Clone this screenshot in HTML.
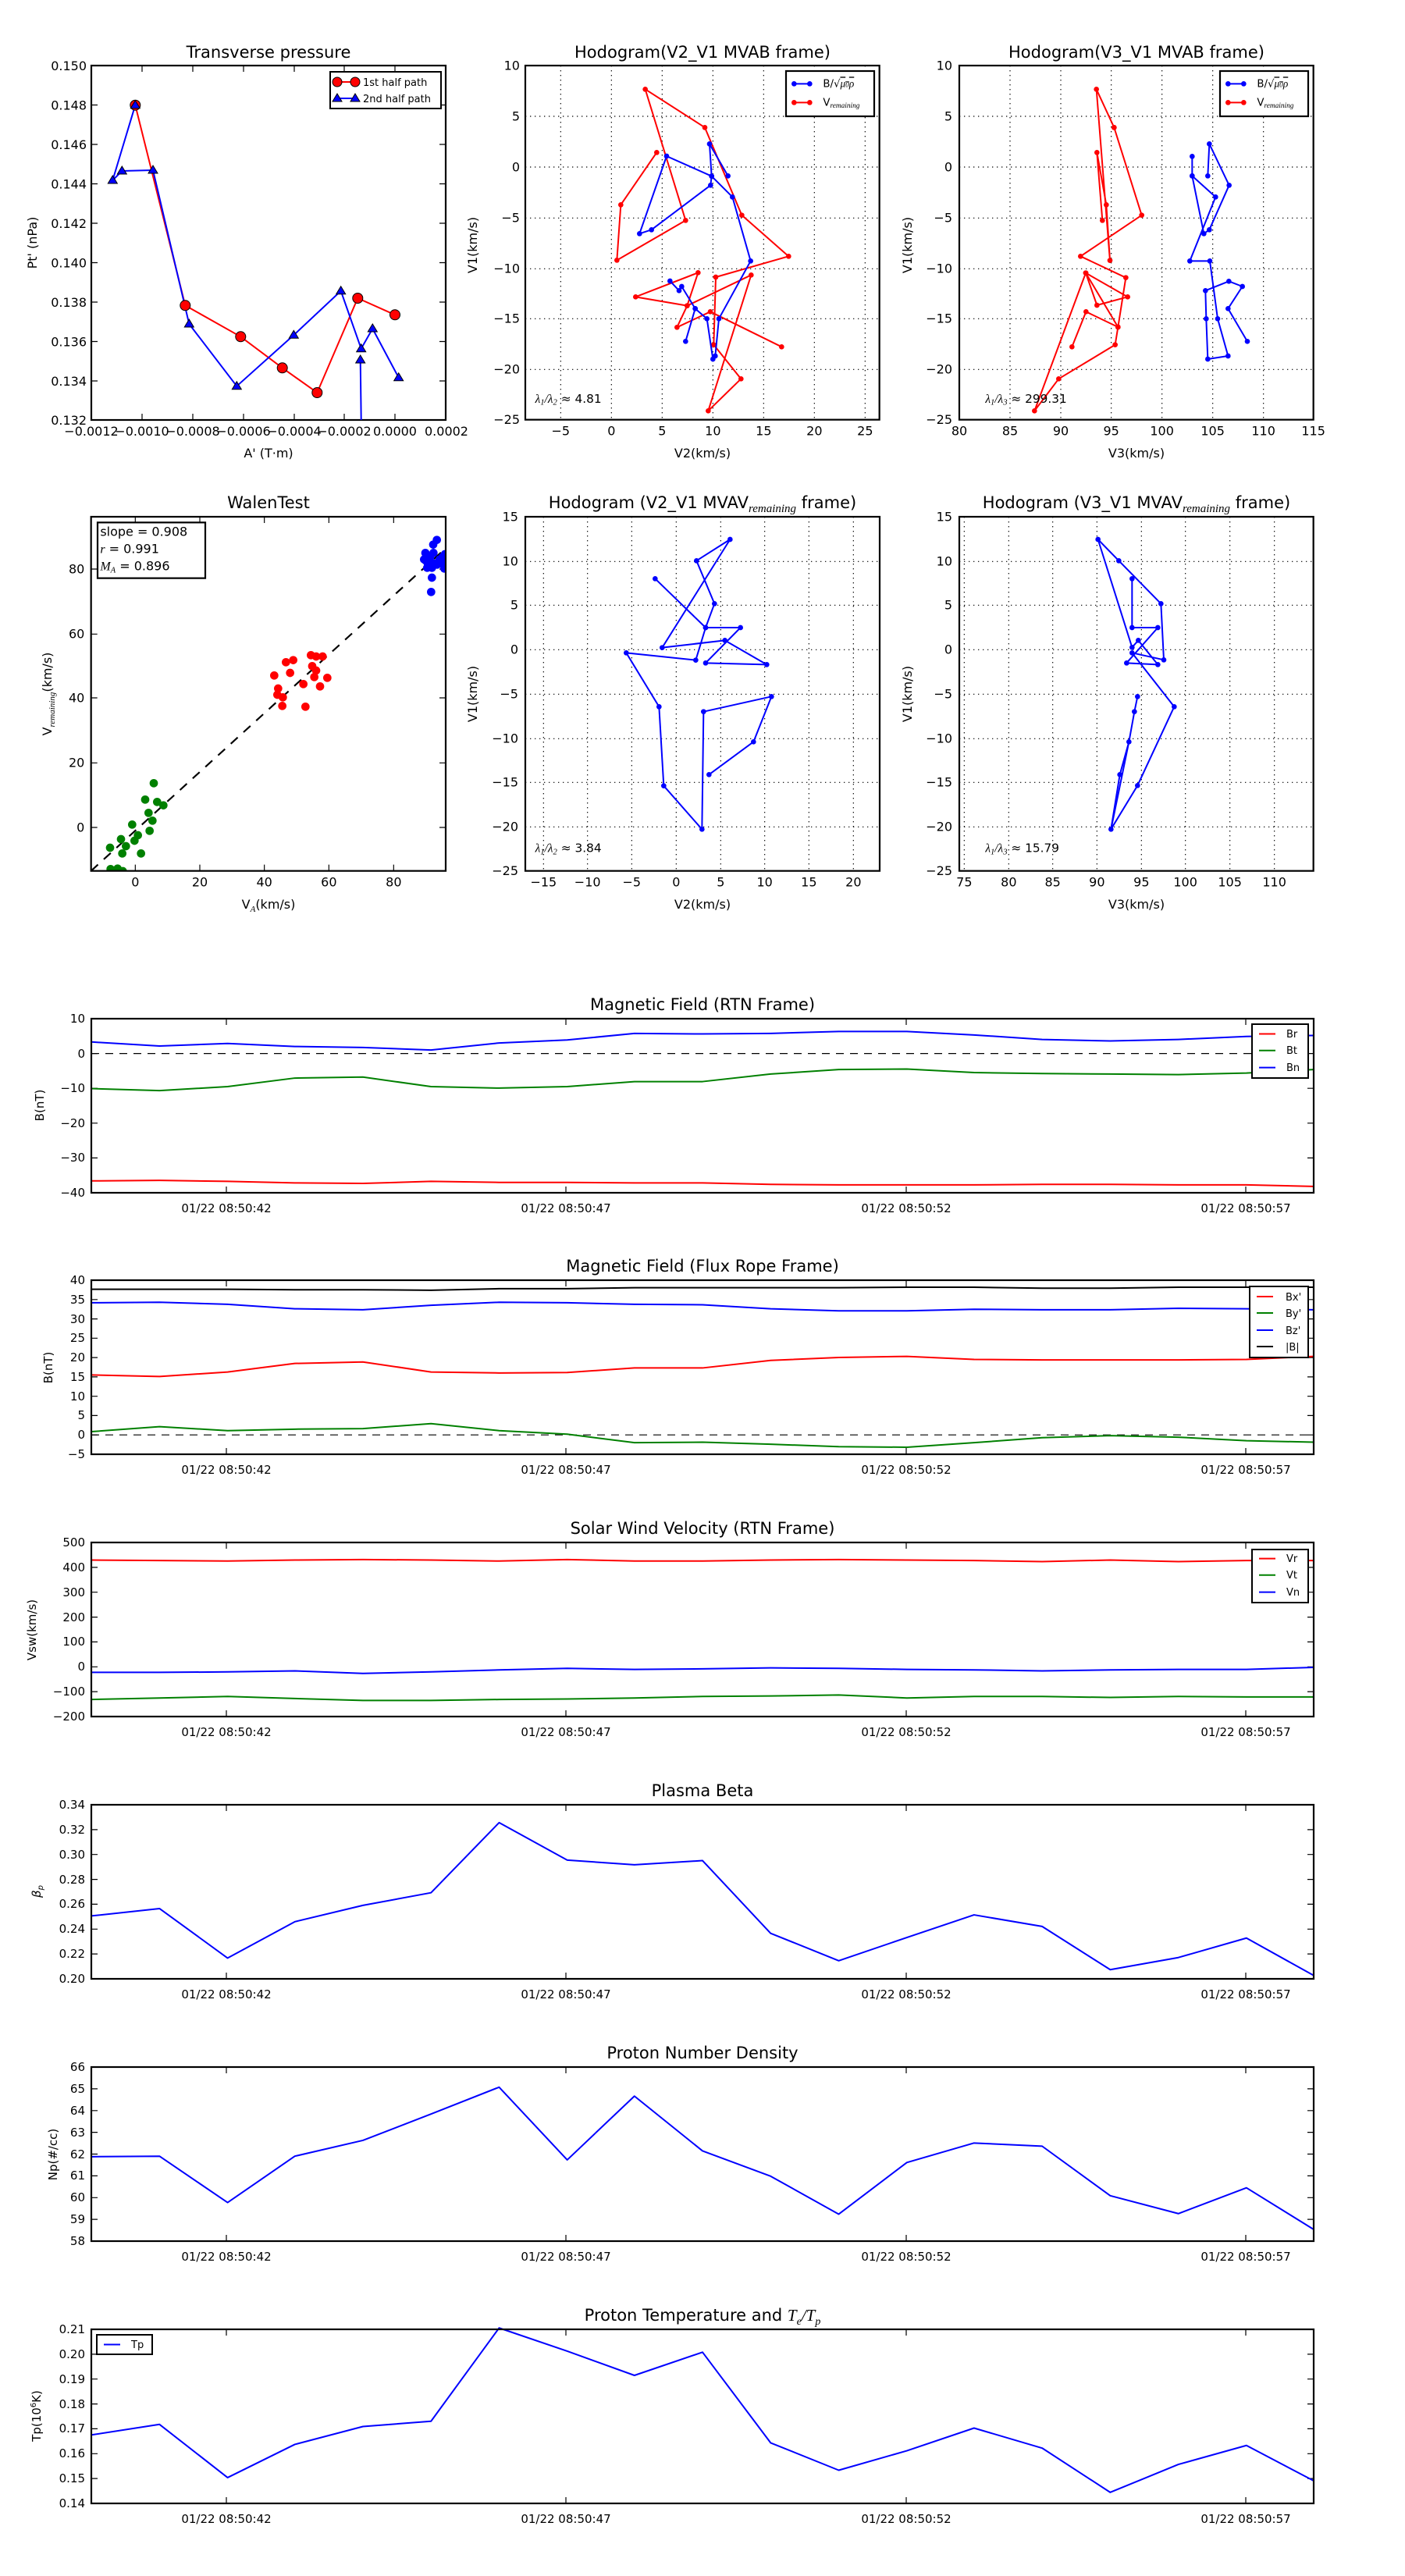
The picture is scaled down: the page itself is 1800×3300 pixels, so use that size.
<!DOCTYPE html>
<html><head><meta charset="utf-8"><style>
html,body{margin:0;padding:0;background:#fff}
svg{display:block}
text{font-family:"DejaVu Sans","Liberation Sans",sans-serif;fill:#000}
.ln{fill:none;stroke-width:2;vector-effect:non-scaling-stroke;stroke-linejoin:round}
.ax{fill:none;stroke:#000;stroke-width:2.2}
.tk{stroke:#000;stroke-width:1.2}
.gr{stroke:#000;stroke-width:1.2;stroke-dasharray:1.5,5}
</style></head><body>
<svg width="1800" height="3300" viewBox="0 0 1800 3300" xmlns="http://www.w3.org/2000/svg">
<defs>
<marker id="dot" markerUnits="userSpaceOnUse" markerWidth="40" markerHeight="40" refX="20" refY="20" overflow="visible"><circle cx="20" cy="20" r="10"/></marker>
<marker id="dotb" markerUnits="userSpaceOnUse" markerWidth="40" markerHeight="40" refX="20" refY="20" overflow="visible"><circle cx="20" cy="20" r="10" fill="#00f"/></marker>
<marker id="dotr" markerUnits="userSpaceOnUse" markerWidth="40" markerHeight="40" refX="20" refY="20" overflow="visible"><circle cx="20" cy="20" r="10" fill="#f00"/></marker>
<clipPath id="cw"><rect x="80" y="66" width="1363" height="1361"/></clipPath>
</defs>

<!-- ============ Plot A: Transverse pressure ============ -->
<text x="344" y="74" font-size="21" text-anchor="middle">Transverse pressure</text>
<rect class="ax" x="117" y="84" width="454" height="454"/>
<g class="tk">
<path d="M182,84v8M247,84v8M312,84v8M377,84v8M441,84v8M506,84v8M182,538v-8M247,538v-8M312,538v-8M377,538v-8M441,538v-8M506,538v-8"/>
<path d="M117,134.5h8M117,185h8M117,235.5h8M117,286h8M117,336.5h8M117,387h8M117,437.5h8M117,488h8M571,134.5h-8M571,185h-8M571,235.5h-8M571,286h-8M571,336.5h-8M571,387h-8M571,437.5h-8M571,488h-8"/>
</g>
<g font-size="16" text-anchor="end">
<text x="111" y="90">0.150</text><text x="111" y="140.5">0.148</text><text x="111" y="191">0.146</text><text x="111" y="241.5">0.144</text><text x="111" y="292">0.142</text><text x="111" y="342.5">0.140</text><text x="111" y="393">0.138</text><text x="111" y="443.5">0.136</text><text x="111" y="494">0.134</text><text x="111" y="544">0.132</text>
</g>
<g font-size="16" text-anchor="middle">
<text x="117" y="558">−0.0012</text><text x="182" y="558">−0.0010</text><text x="247" y="558">−0.0008</text><text x="312" y="558">−0.0006</text><text x="377" y="558">−0.0004</text><text x="441" y="558">−0.0002</text><text x="506" y="558">0.0000</text><text x="572" y="558">0.0002</text>
</g>
<text x="344" y="586" font-size="16" text-anchor="middle">A' (T·m)</text>
<text transform="translate(47,311) rotate(-90)" font-size="16" text-anchor="middle">Pt' (nPa)</text>
<polyline fill="none" stroke="#f00" stroke-width="2" points="173.3,134.7 237.3,391.3 308.3,431.3 361.7,471.3 406.3,503 458.3,382 506,403.3"/>
<polyline fill="none" stroke="#00f" stroke-width="2" points="173.3,134.7 144.3,231 156.3,219 196,218 242.3,415 303.3,494.7 376.3,429.3 436.7,372.7 462.7,446.7 477.3,421 510.7,483.7"/>
<polyline fill="none" stroke="#00f" stroke-width="2" points="461.7,461 462.7,538"/>
<g fill="#f00" stroke="#000" stroke-width="1">
<circle cx="173.3" cy="134.7" r="6.5"/><circle cx="237.3" cy="391.3" r="6.5"/><circle cx="308.3" cy="431.3" r="6.5"/><circle cx="361.7" cy="471.3" r="6.5"/><circle cx="406.3" cy="503" r="6.5"/><circle cx="458.3" cy="382" r="6.5"/><circle cx="506" cy="403.3" r="6.5"/>
</g>
<g fill="#00f" stroke="#000" stroke-width="1">
<path d="M173.3,128.7l6,10h-12z"/><path d="M144.3,225l6,10h-12z"/><path d="M156.3,213l6,10h-12z"/><path d="M196,212l6,10h-12z"/><path d="M242.3,409l6,10h-12z"/><path d="M303.3,488.7l6,10h-12z"/><path d="M376.3,423.3l6,10h-12z"/><path d="M436.7,366.7l6,10h-12z"/><path d="M462.7,440.7l6,10h-12z"/><path d="M461.7,455l6,10h-12z"/><path d="M477.3,415l6,10h-12z"/><path d="M510.7,477.7l6,10h-12z"/>
</g>
<rect x="423" y="92" width="142" height="47" fill="#fff" stroke="#000" stroke-width="2"/>
<line x1="432" y1="105" x2="455" y2="105" stroke="#f00" stroke-width="2"/>
<circle cx="432" cy="105" r="6" fill="#f00" stroke="#000"/><circle cx="455" cy="105" r="6" fill="#f00" stroke="#000"/>
<line x1="432" y1="126" x2="455" y2="126" stroke="#00f" stroke-width="2"/>
<path d="M432,120l6,10h-12zM455,120l6,10h-12z" fill="#00f" stroke="#000"/>
<text x="465" y="110" font-size="13">1st half path</text>
<text x="465" y="131" font-size="13">2nd half path</text>

<!-- ============ Plot B ============ -->
<text x="900" y="74" font-size="21" text-anchor="middle">Hodogram(V2_V1 MVAB frame)</text>
<text transform="translate(611,314) rotate(-90)" font-size="16" text-anchor="middle">V1(km/s)</text>
<text x="900" y="586" font-size="16" text-anchor="middle">V2(km/s)</text>
<g transform="translate(640,60) scale(0.33333)">
<g class="gr" style="stroke-width:3.5;stroke-dasharray:4,14">
<path d="M235,72V1433M430,72V1433M625,72V1433M820,72V1433M1015,72V1433M1210,72V1433M1405,72V1433M99,267H1460M99,462H1460M99,658H1460M99,853H1460M99,1045H1460M99,1240H1460"/>
</g>
<g font-size="48" text-anchor="end">
<text x="78" y="88">10</text><text x="78" y="283">5</text><text x="78" y="478">0</text><text x="78" y="674">−5</text><text x="78" y="869">−10</text><text x="78" y="1061">−15</text><text x="78" y="1256">−20</text><text x="78" y="1449">−25</text>
</g>
<g font-size="48" text-anchor="middle">
<text x="235" y="1492">−5</text><text x="430" y="1492">0</text><text x="625" y="1492">5</text><text x="820" y="1492">10</text><text x="1015" y="1492">15</text><text x="1210" y="1492">20</text><text x="1405" y="1492">25</text>
</g>
<polyline class="ln" stroke="#f00" marker-start="url(#dotr)" marker-mid="url(#dotr)" marker-end="url(#dotr)" points="604,406 466,607 451,820 715,667 560,163 789,310 931,647 1111,805 831,885 823,1145 928,1276 802,1399 967,877 721,995 763,868 523,961 721,995 682,1078 810,1018 1084,1153"/>
<polyline class="ln" stroke="#00f" marker-start="url(#dotb)" marker-mid="url(#dotb)" marker-end="url(#dotb)" points="878,496 807,373 815,497 811,532 584,703 538,718 642,420 815,497 895,577 965,823 843,1045 829,1188 820,1200 797,1045 752,1006 715,1132"/>
<polyline class="ln" stroke="#00f" marker-start="url(#dotb)" marker-mid="url(#dotb)" marker-end="url(#dotb)" points="752,1006 700,921 690,937 655,900"/>
<rect x="1101" y="93" width="339" height="174" fill="#fff" stroke="#000" stroke-width="6.6"/>
<line x1="1132" y1="142" x2="1192" y2="142" stroke="#00f" stroke-width="6"/><circle cx="1132" cy="142" r="10" fill="#00f"/><circle cx="1192" cy="142" r="10" fill="#00f"/>
<line x1="1132" y1="214" x2="1192" y2="214" stroke="#f00" stroke-width="6"/><circle cx="1132" cy="214" r="10" fill="#f00"/><circle cx="1192" cy="214" r="10" fill="#f00"/>
<text x="1243" y="154" font-size="40">B/√<tspan font-family="Liberation Serif" font-style="italic" text-decoration="overline">μ<tspan font-size="28">0</tspan>ρ</tspan></text>
<text x="1243" y="226" font-size="40">V<tspan font-family="Liberation Serif" font-style="italic" font-size="28" dy="8">remaining</tspan></text>
<text x="137" y="1368" font-size="46"><tspan font-family="Liberation Serif" font-style="italic">λ<tspan font-size="32" dy="8">1</tspan><tspan dy="-8">/λ</tspan><tspan font-size="32" dy="8">2</tspan></tspan><tspan dy="-8"> ≈ 4.81</tspan></text>
<rect x="99" y="72" width="1361" height="1361" fill="none" stroke="#000" stroke-width="6.6"/>
</g>

<!-- ============ Plot C ============ -->
<text x="1456" y="74" font-size="21" text-anchor="middle">Hodogram(V3_V1 MVAB frame)</text>
<text transform="translate(1168,314) rotate(-90)" font-size="16" text-anchor="middle">V1(km/s)</text>
<text x="1456" y="586" font-size="16" text-anchor="middle">V3(km/s)</text>
<g transform="translate(1200,60) scale(0.33333)">
<g class="gr" style="stroke-width:3.5;stroke-dasharray:4,14">
<path d="M282,72V1433M477,72V1433M671,72V1433M866,72V1433M1061,72V1433M1256,72V1433M87,267H1448M87,462H1448M87,658H1448M87,853H1448M87,1045H1448M87,1240H1448"/>
</g>
<g font-size="48" text-anchor="end">
<text x="60" y="88">10</text><text x="60" y="283">5</text><text x="60" y="478">0</text><text x="60" y="674">−5</text><text x="60" y="869">−10</text><text x="60" y="1061">−15</text><text x="60" y="1256">−20</text><text x="60" y="1449">−25</text>
</g>
<g font-size="48" text-anchor="middle">
<text x="87" y="1492">80</text><text x="282" y="1492">85</text><text x="477" y="1492">90</text><text x="671" y="1492">95</text><text x="866" y="1492">100</text><text x="1061" y="1492">105</text><text x="1256" y="1492">110</text><text x="1448" y="1492">115</text>
</g>
<polyline class="ln" stroke="#f00" marker-start="url(#dotr)" marker-mid="url(#dotr)" marker-end="url(#dotr)" points="682,310 614,163 666,821 652,607 616,406 637,667"/>
<polyline class="ln" stroke="#f00" marker-start="url(#dotr)" marker-mid="url(#dotr)" marker-end="url(#dotr)" points="682,310 788,647 553,805 727,887 697,1077 686,1145 469,1276 376,1399 573,869 734,961 616,993 573,869 697,1077 574,1018 520,1153"/>
<polyline class="ln" stroke="#00f" marker-start="url(#dotb)" marker-mid="url(#dotb)" marker-end="url(#dotb)" points="1042,496 1048,373 1124,532 1048,703 1027,718 982,496 982,421 982,496 1072,577 973,823 1050,823 1080,1045 1120,1188 1042,1200 1036,1045 1033,937 1123,901 1175,921 1120,1006 1194,1132"/>
<rect x="1089" y="93" width="339" height="174" fill="#fff" stroke="#000" stroke-width="6.6"/>
<line x1="1120" y1="142" x2="1180" y2="142" stroke="#00f" stroke-width="6"/><circle cx="1120" cy="142" r="10" fill="#00f"/><circle cx="1180" cy="142" r="10" fill="#00f"/>
<line x1="1120" y1="214" x2="1180" y2="214" stroke="#f00" stroke-width="6"/><circle cx="1120" cy="214" r="10" fill="#f00"/><circle cx="1180" cy="214" r="10" fill="#f00"/>
<text x="1231" y="154" font-size="40">B/√<tspan font-family="Liberation Serif" font-style="italic" text-decoration="overline">μ<tspan font-size="28">0</tspan>ρ</tspan></text>
<text x="1231" y="226" font-size="40">V<tspan font-family="Liberation Serif" font-style="italic" font-size="28" dy="8">remaining</tspan></text>
<text x="187" y="1368" font-size="46"><tspan font-family="Liberation Serif" font-style="italic">λ<tspan font-size="32" dy="8">1</tspan><tspan dy="-8">/λ</tspan><tspan font-size="32" dy="8">3</tspan></tspan><tspan dy="-8"> ≈ 299.31</tspan></text>
<rect x="87" y="72" width="1361" height="1361" fill="none" stroke="#000" stroke-width="6.6"/>
</g>

<!-- ============ Walen ============ -->
<text x="344" y="651" font-size="21" text-anchor="middle">WalenTest</text>
<text transform="translate(66,889) rotate(-90)" font-size="16" text-anchor="middle">V<tspan font-family="Liberation Serif" font-style="italic" font-size="11" dy="4">remaining</tspan><tspan dy="-4">(km/s)</tspan></text>
<text x="344" y="1164" font-size="16" text-anchor="middle">V<tspan font-family="Liberation Serif" font-style="italic" font-size="11" dy="4">A</tspan><tspan dy="-4">(km/s)</tspan></text>
<g transform="translate(90,640) scale(0.33333)">
<g stroke="#000" stroke-width="3.5">
<path d="M250,66v24M498,66v24M746,66v24M994,66v24M1243,66v24M250,1427v-24M498,1427v-24M746,1427v-24M994,1427v-24M1243,1427v-24M80,1260h24M80,1012h24M80,762h24M80,517h24M80,267h24M1443,1260h-24M1443,1012h-24M1443,762h-24M1443,517h-24M1443,267h-24"/>
</g>
<g font-size="48" text-anchor="end">
<text x="55" y="1276">0</text><text x="55" y="1028">20</text><text x="55" y="778">40</text><text x="55" y="533">60</text><text x="55" y="283">80</text>
</g>
<g font-size="48" text-anchor="middle">
<text x="250" y="1486">0</text><text x="498" y="1486">20</text><text x="746" y="1486">40</text><text x="994" y="1486">60</text><text x="1243" y="1486">80</text>
</g>
<line x1="80" y1="1427" x2="1443" y2="187" stroke="#000" stroke-width="6.5" stroke-dasharray="36,30"/>
<g clip-path="url(#cw)">
<g fill="#008000">
<circle cx="153" cy="1338" r="16"/><circle cx="195" cy="1305" r="16"/><circle cx="200" cy="1360" r="16"/><circle cx="214" cy="1332" r="16"/><circle cx="238" cy="1249" r="16"/><circle cx="247" cy="1311" r="16"/><circle cx="260" cy="1290" r="16"/><circle cx="272" cy="1360" r="16"/><circle cx="288" cy="1153" r="16"/><circle cx="301" cy="1204" r="16"/><circle cx="305" cy="1273" r="16"/><circle cx="316" cy="1234" r="16"/><circle cx="321" cy="1090" r="16"/><circle cx="334" cy="1162" r="16"/><circle cx="358" cy="1175" r="16"/><circle cx="155" cy="1420" r="16"/><circle cx="182" cy="1418" r="16"/><circle cx="202" cy="1428" r="16"/>
</g>
<g fill="#f00">
<circle cx="784" cy="676" r="16"/><circle cx="799" cy="726" r="16"/><circle cx="796" cy="750" r="16"/><circle cx="817" cy="760" r="16"/><circle cx="815" cy="793" r="16"/><circle cx="829" cy="625" r="16"/><circle cx="845" cy="666" r="16"/><circle cx="857" cy="617" r="16"/><circle cx="896" cy="709" r="16"/><circle cx="904" cy="796" r="16"/><circle cx="925" cy="598" r="16"/><circle cx="930" cy="640" r="16"/><circle cx="945" cy="603" r="16"/><circle cx="938" cy="682" r="16"/><circle cx="945" cy="657" r="16"/><circle cx="970" cy="603" r="16"/><circle cx="960" cy="718" r="16"/><circle cx="988" cy="685" r="16"/>
</g>
<g fill="#00f">
<circle cx="1365" cy="205" r="16"/><circle cx="1395" cy="173" r="16"/><circle cx="1409" cy="155" r="16"/><circle cx="1367" cy="235" r="16"/><circle cx="1360" cy="230" r="16"/><circle cx="1375" cy="250" r="16"/><circle cx="1383" cy="222" r="16"/><circle cx="1396" cy="205" r="16"/><circle cx="1400" cy="245" r="16"/><circle cx="1390" cy="262" r="16"/><circle cx="1372" cy="262" r="16"/><circle cx="1390" cy="300" r="16"/><circle cx="1387" cy="355" r="16"/><circle cx="1420" cy="230" r="16"/><circle cx="1425" cy="245" r="16"/><circle cx="1432" cy="220" r="16"/><circle cx="1438" cy="265" r="16"/><circle cx="1440" cy="210" r="16"/><circle cx="1435" cy="240" r="16"/><circle cx="1410" cy="250" r="16"/><circle cx="1380" cy="240" r="16"/>
</g>
</g>
<rect x="105" y="88" width="414" height="214" fill="#fff" stroke="#000" stroke-width="6.6"/>
<text x="115" y="140" font-size="48">slope = 0.908</text>
<text x="115" y="205" font-size="48"><tspan font-family="Liberation Serif" font-style="italic">r</tspan> = 0.991</text>
<text x="115" y="272" font-size="48"><tspan font-family="Liberation Serif" font-style="italic">M<tspan font-size="32" dy="8">A</tspan></tspan><tspan dy="-8"> = 0.896</tspan></text>
<rect x="80" y="66" width="1363" height="1361" fill="none" stroke="#000" stroke-width="6.6"/>
</g>

<!-- ============ Plot E ============ -->
<text x="900" y="651" font-size="21" text-anchor="middle">Hodogram (V2_V1 MVAV<tspan font-family="Liberation Serif" font-style="italic" font-size="15" dy="5">remaining</tspan><tspan dy="-5"> frame)</tspan></text>
<text transform="translate(611,889) rotate(-90)" font-size="16" text-anchor="middle">V1(km/s)</text>
<text x="900" y="1164" font-size="16" text-anchor="middle">V2(km/s)</text>
<g transform="translate(640,640) scale(0.33333)">
<g class="gr" style="stroke-width:3.5;stroke-dasharray:4,14">
<path d="M169,66V1427M338,66V1427M508,66V1427M679,66V1427M850,66V1427M1019,66V1427M1189,66V1427M1360,66V1427M99,238H1461M99,406H1461M99,577H1461M99,748H1461M99,919H1461M99,1087H1461M99,1258H1461"/>
</g>
<g font-size="48" text-anchor="end">
<text x="72" y="82">15</text><text x="72" y="254">10</text><text x="72" y="422">5</text><text x="72" y="593">0</text><text x="72" y="764">−5</text><text x="72" y="935">−10</text><text x="72" y="1103">−15</text><text x="72" y="1274">−20</text><text x="72" y="1443">−25</text>
</g>
<g font-size="48" text-anchor="middle">
<text x="169" y="1486">−15</text><text x="338" y="1486">−10</text><text x="508" y="1486">−5</text><text x="679" y="1486">0</text><text x="850" y="1486">5</text><text x="1019" y="1486">10</text><text x="1189" y="1486">15</text><text x="1360" y="1486">20</text>
</g>
<polyline class="ln" stroke="#00f" marker-start="url(#dotb)" marker-mid="url(#dotb)" marker-end="url(#dotb)" points="598,304 792,492 926,492 792,628 1027,634 866,541 625,569 886,153 757,235 826,400 792,492 754,617 487,589 613,796 631,1100 778,1267 784,815 1045,757 976,931 805,1057"/>
<text x="137" y="1355" font-size="46"><tspan font-family="Liberation Serif" font-style="italic">λ<tspan font-size="32" dy="8">1</tspan><tspan dy="-8">/λ</tspan><tspan font-size="32" dy="8">2</tspan></tspan><tspan dy="-8"> ≈ 3.84</tspan></text>
<rect x="99" y="66" width="1362" height="1361" fill="none" stroke="#000" stroke-width="6.6"/>
</g>

<!-- ============ Plot F ============ -->
<text x="1456" y="651" font-size="21" text-anchor="middle">Hodogram (V3_V1 MVAV<tspan font-family="Liberation Serif" font-style="italic" font-size="15" dy="5">remaining</tspan><tspan dy="-5"> frame)</tspan></text>
<text transform="translate(1168,889) rotate(-90)" font-size="16" text-anchor="middle">V1(km/s)</text>
<text x="1456" y="1164" font-size="16" text-anchor="middle">V3(km/s)</text>
<g transform="translate(1200,640) scale(0.33333)">
<g class="gr" style="stroke-width:3.5;stroke-dasharray:4,14">
<path d="M106,66V1427M277,66V1427M446,66V1427M616,66V1427M787,66V1427M956,66V1427M1127,66V1427M1298,66V1427M87,238H1448M87,406H1448M87,577H1448M87,748H1448M87,919H1448M87,1087H1448M87,1258H1448"/>
</g>
<g font-size="48" text-anchor="end">
<text x="60" y="82">15</text><text x="60" y="254">10</text><text x="60" y="422">5</text><text x="60" y="593">0</text><text x="60" y="764">−5</text><text x="60" y="935">−10</text><text x="60" y="1103">−15</text><text x="60" y="1274">−20</text><text x="60" y="1443">−25</text>
</g>
<g font-size="48" text-anchor="middle">
<text x="106" y="1486">75</text><text x="277" y="1486">80</text><text x="446" y="1486">85</text><text x="616" y="1486">90</text><text x="787" y="1486">95</text><text x="956" y="1486">100</text><text x="1127" y="1486">105</text><text x="1298" y="1486">110</text>
</g>
<polyline class="ln" stroke="#00f" marker-start="url(#dotb)" marker-mid="url(#dotb)" marker-end="url(#dotb)" points="751,304 751,492 850,492 730,628 850,634 775,541 751,568 620,153 700,235 862,400 873,616 751,589 913,796 772,1099 670,1267 704,1057 739,931 760,815 772,757"/>
<polyline class="ln" stroke="#00f" points="670,1267 739,931"/>
<text x="187" y="1355" font-size="46"><tspan font-family="Liberation Serif" font-style="italic">λ<tspan font-size="32" dy="8">1</tspan><tspan dy="-8">/λ</tspan><tspan font-size="32" dy="8">3</tspan></tspan><tspan dy="-8"> ≈ 15.79</tspan></text>
<rect x="87" y="66" width="1361" height="1361" fill="none" stroke="#000" stroke-width="6.6"/>
</g>

<!-- ============ Time series panels ============ -->
<g font-size="15" text-anchor="middle">
<text x="290" y="1553">01/22 08:50:42</text><text x="725" y="1553">01/22 08:50:47</text><text x="1161" y="1553">01/22 08:50:52</text><text x="1596" y="1553">01/22 08:50:57</text>
<text x="290" y="1888">01/22 08:50:42</text><text x="725" y="1888">01/22 08:50:47</text><text x="1161" y="1888">01/22 08:50:52</text><text x="1596" y="1888">01/22 08:50:57</text>
<text x="290" y="2224">01/22 08:50:42</text><text x="725" y="2224">01/22 08:50:47</text><text x="1161" y="2224">01/22 08:50:52</text><text x="1596" y="2224">01/22 08:50:57</text>
<text x="290" y="2560">01/22 08:50:42</text><text x="725" y="2560">01/22 08:50:47</text><text x="1161" y="2560">01/22 08:50:52</text><text x="1596" y="2560">01/22 08:50:57</text>
<text x="290" y="2896">01/22 08:50:42</text><text x="725" y="2896">01/22 08:50:47</text><text x="1161" y="2896">01/22 08:50:52</text><text x="1596" y="2896">01/22 08:50:57</text>
<text x="290" y="3232">01/22 08:50:42</text><text x="725" y="3232">01/22 08:50:47</text><text x="1161" y="3232">01/22 08:50:52</text><text x="1596" y="3232">01/22 08:50:57</text>
</g>
<g font-size="21" text-anchor="middle">
<text x="900" y="1294">Magnetic Field (RTN Frame)</text>
<text x="900" y="1629">Magnetic Field (Flux Rope Frame)</text>
<text x="900" y="1965">Solar Wind Velocity (RTN Frame)</text>
<text x="900" y="2301">Plasma Beta</text>
<text x="900" y="2637">Proton Number Density</text>
<text x="900" y="2973">Proton Temperature and <tspan font-family="Liberation Serif" font-style="italic">T<tspan font-size="14" dy="5">e</tspan><tspan dy="-5">/T</tspan><tspan font-size="14" dy="5">p</tspan></tspan></text>
</g>
<g font-size="15">
<text transform="translate(56,1416) rotate(-90)" text-anchor="middle">B(nT)</text>
<text transform="translate(67,1752) rotate(-90)" text-anchor="middle">B(nT)</text>
<text transform="translate(46,2088) rotate(-90)" text-anchor="middle">Vsw(km/s)</text>
<text transform="translate(52,2423) rotate(-90)" text-anchor="middle" font-family="Liberation Serif" font-style="italic">β<tspan font-size="10" dy="3">p</tspan></text>
<text transform="translate(73,2760) rotate(-90)" text-anchor="middle">Np(#/cc)</text>
<text transform="translate(52,3095) rotate(-90)" text-anchor="middle">Tp(10<tspan font-size="10" dy="-6">6</tspan><tspan dy="6">K)</tspan></text>
</g>
<!-- y tick labels -->
<g font-size="15" text-anchor="end">
<text x="109" y="1310">10</text><text x="109" y="1355">0</text><text x="109" y="1399">−10</text><text x="109" y="1444">−20</text><text x="109" y="1488">−30</text><text x="109" y="1533">−40</text>
<text x="109" y="1645">40</text><text x="109" y="1670">35</text><text x="109" y="1695">30</text><text x="109" y="1719">25</text><text x="109" y="1744">20</text><text x="109" y="1769">15</text><text x="109" y="1794">10</text><text x="109" y="1818">5</text><text x="109" y="1843">0</text><text x="109" y="1868">−5</text>
<text x="109" y="1981">500</text><text x="109" y="2013">400</text><text x="109" y="2045">300</text><text x="109" y="2077">200</text><text x="109" y="2108">100</text><text x="109" y="2140">0</text><text x="109" y="2172">−100</text><text x="109" y="2204">−200</text>
<text x="109" y="2317">0.34</text><text x="109" y="2349">0.32</text><text x="109" y="2381">0.30</text><text x="109" y="2413">0.28</text><text x="109" y="2444">0.26</text><text x="109" y="2476">0.24</text><text x="109" y="2508">0.22</text><text x="109" y="2540">0.20</text>
<text x="109" y="2653">66</text><text x="109" y="2681">65</text><text x="109" y="2709">64</text><text x="109" y="2737">63</text><text x="109" y="2765">62</text><text x="109" y="2792">61</text><text x="109" y="2820">60</text><text x="109" y="2848">59</text><text x="109" y="2876">58</text>
<text x="109" y="2989">0.21</text><text x="109" y="3021">0.20</text><text x="109" y="3053">0.19</text><text x="109" y="3085">0.18</text><text x="109" y="3116">0.17</text><text x="109" y="3148">0.16</text><text x="109" y="3180">0.15</text><text x="109" y="3212">0.14</text>
</g>
<!-- ticks -->
<g class="tk">
<path d="M290,1305v8M725,1305v8M1161,1305v8M1596,1305v8M290,1528v-8M725,1528v-8M1161,1528v-8M1596,1528v-8"/>
<path d="M290,1640v8M725,1640v8M1161,1640v8M1596,1640v8M290,1863v-8M725,1863v-8M1161,1863v-8M1596,1863v-8"/>
<path d="M290,1976v8M725,1976v8M1161,1976v8M1596,1976v8M290,2199v-8M725,2199v-8M1161,2199v-8M1596,2199v-8"/>
<path d="M290,2312v8M725,2312v8M1161,2312v8M1596,2312v8M290,2535v-8M725,2535v-8M1161,2535v-8M1596,2535v-8"/>
<path d="M290,2648v8M725,2648v8M1161,2648v8M1596,2648v8M290,2871v-8M725,2871v-8M1161,2871v-8M1596,2871v-8"/>
<path d="M290,2984v8M725,2984v8M1161,2984v8M1596,2984v8M290,3207v-8M725,3207v-8M1161,3207v-8M1596,3207v-8"/>
<path d="M117,1349.6h8M117,1394.2h8M117,1438.8h8M117,1483.4h8M1683,1349.6h-8M1683,1394.2h-8M1683,1438.8h-8M1683,1483.4h-8"/>
<path d="M117,1664.8h8M117,1689.6h8M117,1714.3h8M117,1739.1h8M117,1763.9h8M117,1788.7h8M117,1813.4h8M117,1838.2h8M1683,1664.8h-8M1683,1689.6h-8M1683,1714.3h-8M1683,1739.1h-8M1683,1763.9h-8M1683,1788.7h-8M1683,1813.4h-8M1683,1838.2h-8"/>
<path d="M117,2007.9h8M117,2039.7h8M117,2071.6h8M117,2103.4h8M117,2135.3h8M117,2167.1h8M1683,2007.9h-8M1683,2039.7h-8M1683,2071.6h-8M1683,2103.4h-8M1683,2135.3h-8M1683,2167.1h-8"/>
<path d="M117,2343.9h8M117,2375.7h8M117,2407.6h8M117,2439.4h8M117,2471.3h8M117,2503.1h8M1683,2343.9h-8M1683,2375.7h-8M1683,2407.6h-8M1683,2439.4h-8M1683,2471.3h-8M1683,2503.1h-8"/>
<path d="M117,2675.9h8M117,2703.8h8M117,2731.6h8M117,2759.5h8M117,2787.4h8M117,2815.3h8M117,2843.1h8M1683,2675.9h-8M1683,2703.8h-8M1683,2731.6h-8M1683,2759.5h-8M1683,2787.4h-8M1683,2815.3h-8M1683,2843.1h-8"/>
<path d="M117,3015.9h8M117,3047.7h8M117,3079.6h8M117,3111.4h8M117,3143.3h8M117,3175.1h8M1683,3015.9h-8M1683,3047.7h-8M1683,3079.6h-8M1683,3111.4h-8M1683,3143.3h-8M1683,3175.1h-8"/>
</g>
<line x1="117" y1="1349.6" x2="1683" y2="1349.6" stroke="#000" stroke-width="1.2" stroke-dasharray="10,8"/>
<line x1="117" y1="1838.2" x2="1683" y2="1838.2" stroke="#000" stroke-width="1.2" stroke-dasharray="10,8"/>

<g transform="translate(0,1250) scale(1.148,0.6425)">
<polyline class="ln" stroke="#00f" points="102,132 178,140 254,135 329,141 405,143 481,148 557,134 633,128 708,115 784,116 860,115 936,111 1012,111 1087,118 1163,127 1239,130 1315,127 1391,121 1466,119"/>
<polyline class="ln" stroke="#008000" points="102,225 178,229 254,221 329,204 405,202 481,221 557,224 633,221 708,211 784,211 860,196 936,187 1012,186 1087,193 1163,195 1239,196 1315,197 1391,194 1466,187"/>
<polyline class="ln" stroke="#f00" points="102,409 178,408 254,410 329,413 405,414 481,410 557,412 633,412 708,413 784,413 860,416 936,417 1012,417 1087,417 1163,416 1239,416 1315,417 1391,417 1466,420"/>
<polyline class="ln" stroke="#000" points="102,625 178,625 254,625 329,626 405,626 481,627 557,624 633,624 708,622 784,622 860,622 936,622 1012,621 1087,621 1163,623 1239,623 1315,621 1391,621 1466,621"/>
<polyline class="ln" stroke="#00f" points="102,652 178,651 254,655 329,664 405,666 481,657 557,651 633,652 708,655 784,656 860,664 936,668 1012,668 1087,665 1163,666 1239,666 1315,663 1391,664 1466,666"/>
<polyline class="ln" stroke="#f00" points="102,796 178,799 254,790 329,773 405,770 481,790 557,792 633,791 708,782 784,782 860,767 936,761 1012,759 1087,765 1163,766 1239,766 1315,766 1391,765 1466,759"/>
<polyline class="ln" stroke="#008000" points="102,909 178,899 254,907 329,904 405,903 481,893 557,907 633,914 708,931 784,930 860,934 936,939 1012,940 1087,931 1163,921 1239,917 1315,920 1391,927 1466,930"/>
<polyline class="ln" stroke="#f00" points="102,1165 178,1166 254,1167 329,1165 405,1164 481,1165 557,1167 633,1164 708,1167 784,1167 860,1165 936,1164 1012,1165 1087,1166 1163,1168 1239,1165 1315,1168 1391,1166 1466,1166"/>
<polyline class="ln" stroke="#00f" points="102,1389 178,1389 254,1388 329,1386 405,1391 481,1388 557,1384 633,1381 708,1383 784,1382 860,1380 936,1381 1012,1383 1087,1384 1163,1386 1239,1384 1315,1383 1391,1383 1466,1379"/>
<polyline class="ln" stroke="#008000" points="102,1443 178,1440 254,1437 329,1441 405,1445 481,1445 557,1443 633,1442 708,1440 784,1437 860,1436 936,1434 1012,1440 1087,1437 1163,1437 1239,1439 1315,1437 1391,1438 1466,1438"/>
</g>
<g transform="translate(0,2254.6) scale(1.148,0.675)">
<polyline class="ln" stroke="#00f" points="102,296 178,282 254,376 329,307 405,276 481,252 557,119 633,190 708,199 784,191 860,329 936,381 1012,337 1087,294 1163,316 1239,398 1315,375 1391,338 1466,409"/>
<polyline class="ln" stroke="#00f" points="102,753 178,752 254,840 329,752 405,722 481,672 557,621 633,759 708,638 784,742 860,790 936,862 1012,764 1087,727 1163,733 1239,827 1315,861 1391,812 1466,891"/>
<polyline class="ln" stroke="#00f" points="102,1281 178,1261 254,1362 329,1299 405,1265 481,1255 557,1078 633,1122 708,1168 784,1124 860,1296 936,1348 1012,1311 1087,1268 1163,1306 1239,1390 1315,1337 1391,1301 1466,1368"/>
</g>

<!-- legends -->
<rect x="1604" y="1312" width="72" height="69" fill="#fff" stroke="#000" stroke-width="2"/>
<line x1="1613" y1="1324.5" x2="1634" y2="1324.5" stroke="#f00" stroke-width="2"/>
<line x1="1613" y1="1345.7" x2="1634" y2="1345.7" stroke="#008000" stroke-width="2"/>
<line x1="1613" y1="1367.6" x2="1634" y2="1367.6" stroke="#00f" stroke-width="2"/>
<g font-size="13"><text x="1648" y="1329">Br</text><text x="1648" y="1350">Bt</text><text x="1648" y="1372">Bn</text></g>

<rect x="1601" y="1648" width="75" height="91" fill="#fff" stroke="#000" stroke-width="2"/>
<line x1="1610" y1="1661" x2="1631" y2="1661" stroke="#f00" stroke-width="2"/>
<line x1="1610" y1="1682" x2="1631" y2="1682" stroke="#008000" stroke-width="2"/>
<line x1="1610" y1="1704" x2="1631" y2="1704" stroke="#00f" stroke-width="2"/>
<line x1="1610" y1="1725" x2="1631" y2="1725" stroke="#000" stroke-width="2"/>
<g font-size="13"><text x="1647" y="1666">Bx'</text><text x="1647" y="1687">By'</text><text x="1647" y="1709">Bz'</text><text x="1647" y="1730">|B|</text></g>

<rect x="1604" y="1985" width="72" height="68" fill="#fff" stroke="#000" stroke-width="2"/>
<line x1="1613" y1="1996.6" x2="1634" y2="1996.6" stroke="#f00" stroke-width="2"/>
<line x1="1613" y1="2017.8" x2="1634" y2="2017.8" stroke="#008000" stroke-width="2"/>
<line x1="1613" y1="2039.6" x2="1634" y2="2039.6" stroke="#00f" stroke-width="2"/>
<g font-size="13"><text x="1648" y="2001">Vr</text><text x="1648" y="2022">Vt</text><text x="1648" y="2044">Vn</text></g>

<rect x="124" y="2991" width="71" height="25" fill="#fff" stroke="#000" stroke-width="2"/>
<line x1="133" y1="3003.5" x2="154" y2="3003.5" stroke="#00f" stroke-width="2"/>
<text x="168" y="3008" font-size="13">Tp</text>

<!-- frames -->
<rect class="ax" x="117" y="1305" width="1566" height="223"/>
<rect class="ax" x="117" y="1640" width="1566" height="223"/>
<rect class="ax" x="117" y="1976" width="1566" height="223"/>
<rect class="ax" x="117" y="2312" width="1566" height="223"/>
<rect class="ax" x="117" y="2648" width="1566" height="223"/>
<rect class="ax" x="117" y="2984" width="1566" height="223"/>
</svg>
</body></html>
